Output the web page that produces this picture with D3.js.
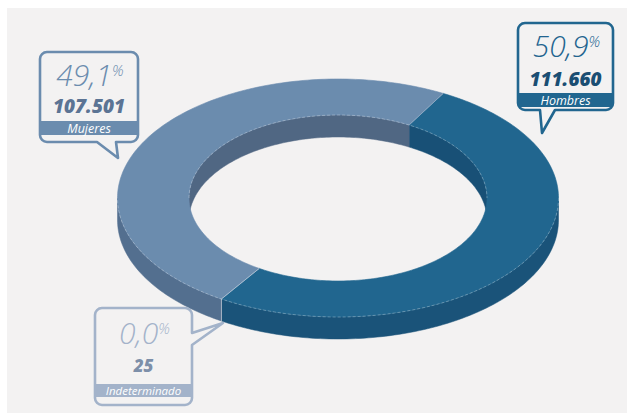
<!DOCTYPE html>
<html><head><meta charset="utf-8">
<script src="https://cdn.jsdelivr.net/npm/d3@7"></script>
<style>html,body{margin:0;padding:0;background:#fff;}svg{display:block;}</style>
</head><body>
<svg id="c" width="627" height="413"></svg>
<script>
const categories = ["Hombres", "Indeterminado", "Mujeres"];
const values = [111660, 25, 107501];
const percentLabels = ["50,9", "0,0", "49,1"];
const countLabels = ["111.660", "25", "107.501"];
const topColors = ["#21668f", "#a3b3ca", "#6b8cae"];
const outerWallColors = ["#1a5379", "#8797ad", "#536f8f"];
const innerWallColors = ["#185076", "#8797ad", "#506783"];

const svg = d3.select("#c");
svg.append("rect").attr("x", 7).attr("y", 8).attr("width", 620).attr("height", 405).attr("fill", "#f3f2f2");

const cx = 338, cy = 198, orx = 220.5, ory = 119, irx = 149, iry = 83, depth = 22;
const startDeg = 28.5;
const pie = d3.pie().sort(null).value(d => d)
  .startAngle(startDeg * Math.PI / 180)
  .endAngle(startDeg * Math.PI / 180 + 2 * Math.PI);
const arcs = pie(values);
const line = d3.line();

function pts(rx, ry, a, b, dy) {
  const n = Math.max(2, Math.ceil(Math.abs(b - a) / 0.02));
  const out = [];
  for (let i = 0; i <= n; i++) {
    const t = a + (b - a) * i / n;
    out.push([cx + rx * Math.cos(t), cy + ry * Math.sin(t) + dy]);
  }
  return out;
}
function wall(rx, ry, a, b) {
  const top = pts(rx, ry, a, b, 0);
  const bot = pts(rx, ry, b, a, depth);
  return line(top.concat(bot)) + "Z";
}
function overlaps(t0, t1, a, b) {
  const res = [];
  for (let k = -1; k <= 1; k++) {
    const s = Math.max(t0, a + 2 * Math.PI * k), e = Math.min(t1, b + 2 * Math.PI * k);
    if (e > s) res.push([s, e]);
  }
  return res;
}

const g = svg.append("g");
arcs.forEach((d, i) => {
  const t0 = d.startAngle - Math.PI / 2, t1 = d.endAngle - Math.PI / 2;
  overlaps(t0, t1, Math.PI, 2 * Math.PI).forEach(([s, e]) => {
    g.append("path").attr("d", wall(irx, iry, s, e)).attr("fill", innerWallColors[i])
      .attr("stroke", innerWallColors[i]).attr("stroke-width", 0.5);
  });
});
arcs.forEach((d, i) => {
  const t0 = d.startAngle - Math.PI / 2, t1 = d.endAngle - Math.PI / 2;
  overlaps(t0, t1, 0, Math.PI).forEach(([s, e]) => {
    g.append("path").attr("d", wall(orx, ory, s, e)).attr("fill", outerWallColors[i])
      .attr("stroke", outerWallColors[i]).attr("stroke-width", 0.5);
  });
});
arcs.forEach((d, i) => {
  const t0 = d.startAngle - Math.PI / 2, t1 = d.endAngle - Math.PI / 2;
  if (t1 - t0 < 0.001) return;
  const p = pts(orx, ory, t0, t1, 0).concat(pts(irx, iry, t1, t0, 0));
  g.append("path").attr("d", line(p) + "Z").attr("fill", topColors[i])
    .attr("stroke", topColors[i]).attr("stroke-width", 0.6);
});
g.append("path").attr("d", line(pts(orx, ory, 0, Math.PI, 0)))
  .attr("fill", "none").attr("stroke", "rgba(255,255,255,0.35)").attr("stroke-width", 0.8).attr("stroke-dasharray", "3,2");
g.append("path").attr("d", line(pts(irx, iry, Math.PI, 2 * Math.PI, 0)))
  .attr("fill", "none").attr("stroke", "rgba(255,255,255,0.35)").attr("stroke-width", 0.8).attr("stroke-dasharray", "3,2");
arcs.forEach((d) => {
  const t = d.startAngle - Math.PI / 2;
  const o = [cx + orx * Math.cos(t), cy + ory * Math.sin(t)];
  const n = [cx + irx * Math.cos(t), cy + iry * Math.sin(t)];
  g.append("path").attr("d", line([o, n])).attr("stroke", "rgba(255,255,255,0.25)").attr("stroke-width", 1);
  if (Math.sin(t) > 0) g.append("path").attr("d", line([o, [o[0], o[1] + depth]])).attr("stroke", "rgba(255,255,255,0.25)").attr("stroke-width", 1);
});

const callouts = [
  {i: 0, x: 518, y: 23, w: 95, h: 87, bandY: 93, bandH: 14, side: "bottom", b1: 540, b2: 555, tip: [542, 133],
   border: "#21668f", band: "#21668f", pct: "#22648f", cnt: "#1a4e73", pctY: 57, cntY: 86, cntSize: 19, lblY: 104.5, lblSize: 12.5},
  {i: 2, x: 40, y: 52, w: 98, h: 90, bandY: 121, bandH: 14, side: "bottom", b1: 97, b2: 116, tip: [118, 158],
   border: "#6b8cae", band: "#6b8cae", pct: "#6b8cae", cnt: "#5b7494", pctY: 86, cntY: 113, cntSize: 19, lblY: 132.5, lblSize: 12.5},
  {i: 1, x: 95, y: 308, w: 97, h: 97, bandY: 384, bandH: 13, side: "right", b1: 333, b2: 345, tip: [223, 323],
   border: "#a3b3ca", band: "#a3b3ca", pct: "#a3b3ca", cnt: "#7d8fa9", pctY: 344, cntY: 372, cntSize: 17, lblY: 394.5, lblSize: 11.5}
];
function boxPath(c) {
  const r = 7, {x, y, w, h} = c;
  const p = d3.path();
  p.moveTo(x + r, y);
  p.lineTo(x + w - r, y);
  p.arcTo(x + w, y, x + w, y + r, r);
  if (c.side === "right") {
    p.lineTo(x + w, c.b1); p.lineTo(c.tip[0], c.tip[1]); p.lineTo(x + w, c.b2);
  }
  p.lineTo(x + w, y + h - r);
  p.arcTo(x + w, y + h, x + w - r, y + h, r);
  if (c.side === "bottom") {
    p.lineTo(c.b2, y + h); p.lineTo(c.tip[0], c.tip[1]); p.lineTo(c.b1, y + h);
  }
  p.lineTo(x + r, y + h);
  p.arcTo(x, y + h, x, y + h - r, r);
  p.lineTo(x, y + r);
  p.arcTo(x, y, x + r, y, r);
  p.closePath();
  return p.toString();
}
const font = "'Open Sans', 'Noto Sans', sans-serif";
callouts.forEach(c => {
  const cg = svg.append("g");
  cg.append("path").attr("d", boxPath(c)).attr("fill", "#f3f2f2").attr("stroke", c.border).attr("stroke-width", 2.6).attr("stroke-linejoin", "round");
  cg.append("rect").attr("x", c.x).attr("y", c.bandY).attr("width", c.w).attr("height", c.bandH).attr("fill", c.band);
  const mx = c.x + c.w / 2;
  const t = cg.append("text").attr("x", mx + 1).attr("y", c.pctY).attr("text-anchor", "middle")
    .attr("font-family", font).attr("font-style", "italic").attr("font-weight", 300).attr("fill", c.pct);
  t.append("tspan").attr("font-size", 30).text(percentLabels[c.i]);
  t.append("tspan").attr("font-size", 15).attr("dy", -10).text("%");
  cg.append("text").attr("x", mx).attr("y", c.cntY).attr("text-anchor", "middle")
    .attr("font-family", font).attr("font-style", "italic").attr("font-weight", 800).attr("font-size", c.cntSize)
    .attr("fill", c.cnt).text(countLabels[c.i]);
  cg.append("text").attr("x", mx).attr("y", c.lblY).attr("text-anchor", "middle")
    .attr("font-family", font).attr("font-style", "italic").attr("font-size", c.lblSize)
    .attr("fill", "#ffffff").text(categories[c.i]);
});
</script>
</body></html>
